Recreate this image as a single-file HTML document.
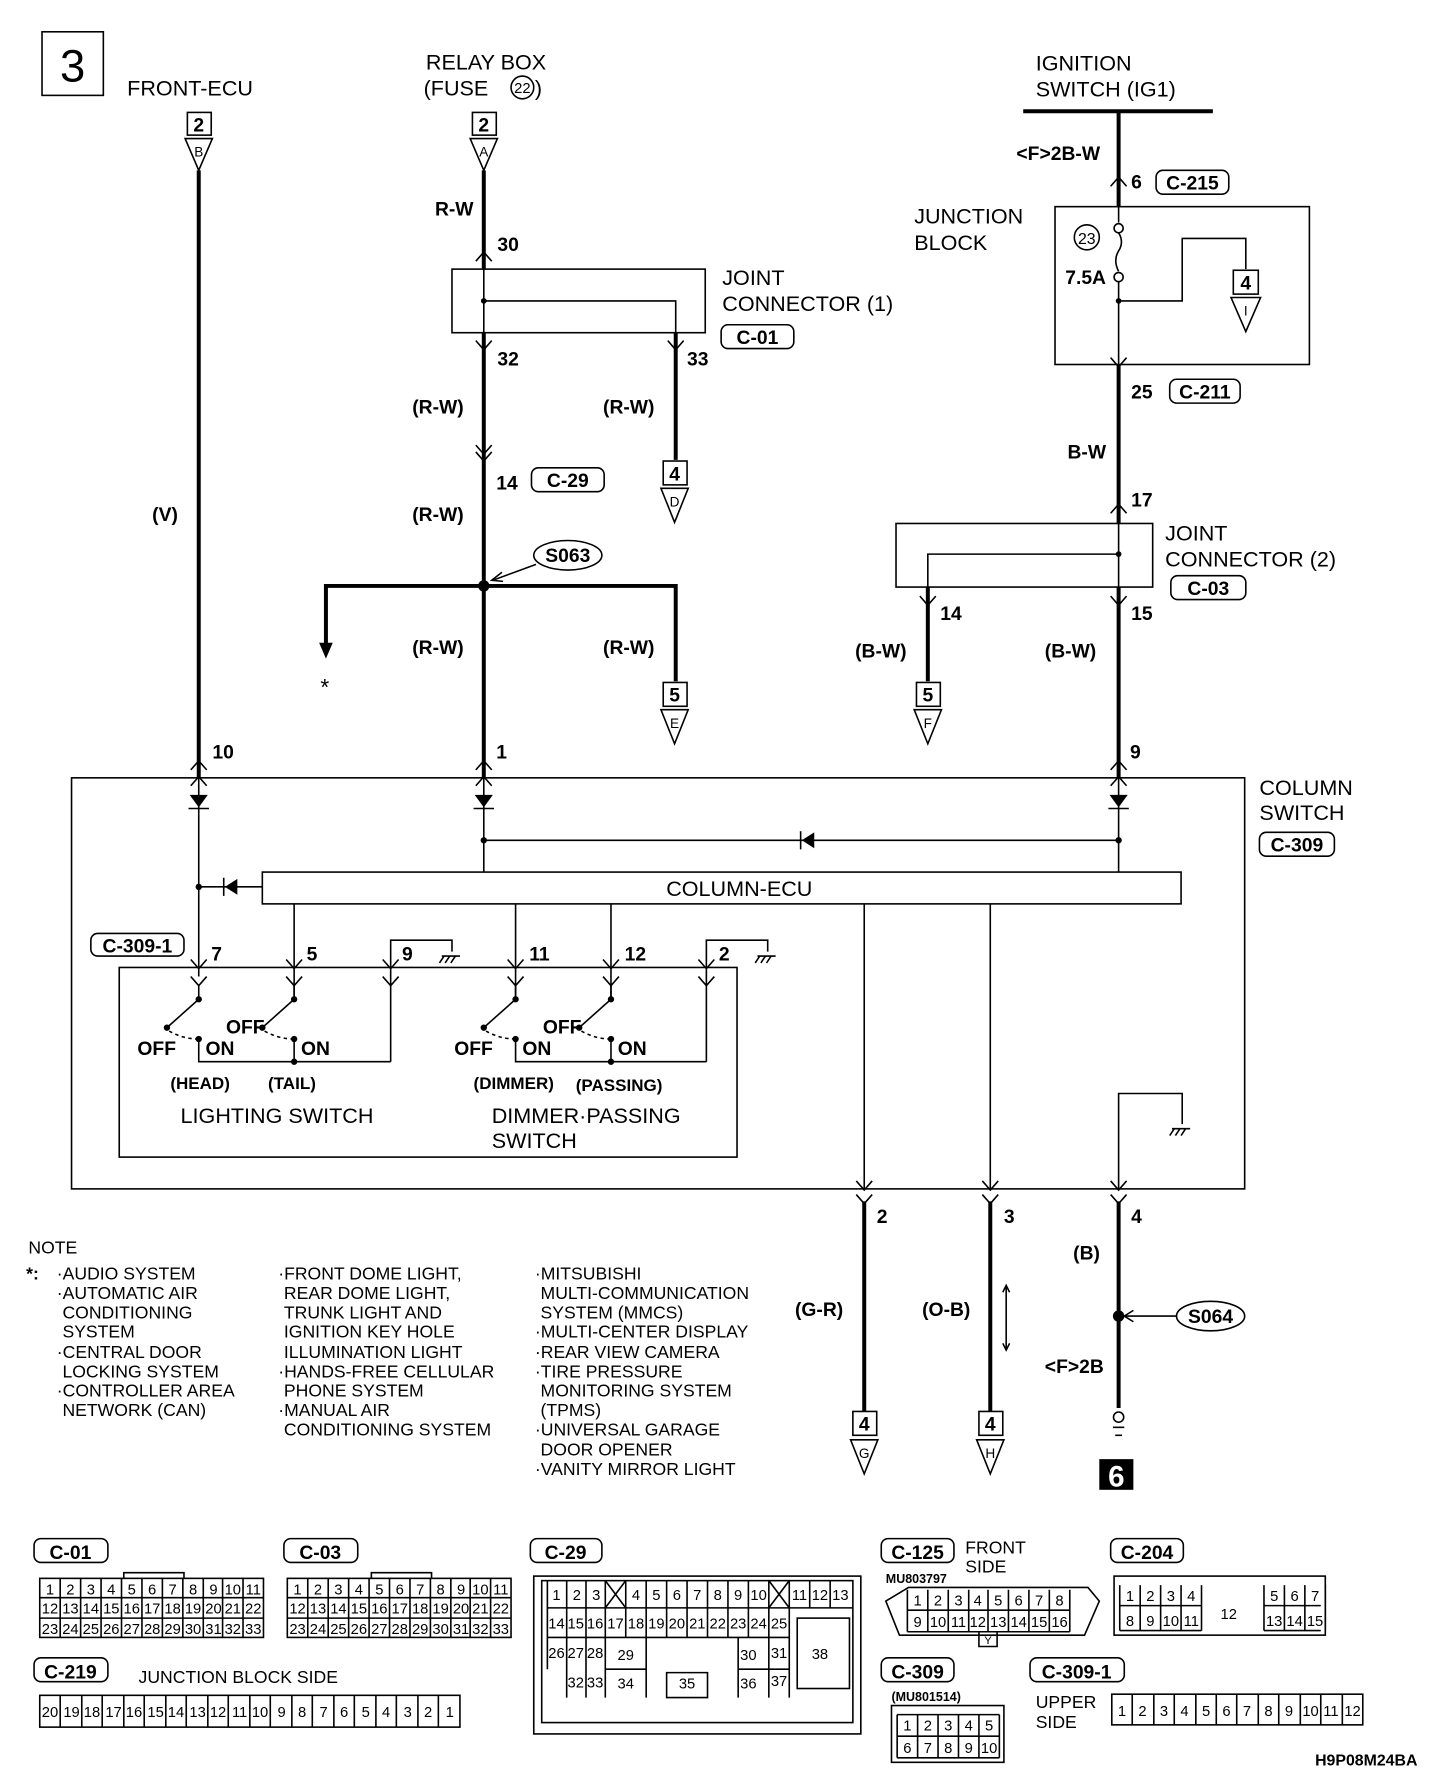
<!DOCTYPE html>
<html><head><meta charset="utf-8"><style>
html,body{margin:0;padding:0;background:#fff;}
svg{display:block;}
text{font-family:"Liberation Sans",sans-serif;fill:#000;}
.l{font-size:19px;}
.b{font-size:17px;font-weight:bold;font-family:"Liberation Sans Narrow","Liberation Sans",sans-serif;}
.n{font-size:15.5px;}
.c{font-size:13px;text-anchor:middle;}
.w{stroke:#000;stroke-width:3.5;fill:none;}
.t{stroke:#000;stroke-width:1.4;fill:none;}
</style></head><body>
<svg width="1440" height="1768" viewBox="0 0 1268 1557" preserveAspectRatio="none" xmlns="http://www.w3.org/2000/svg">
<rect x="0" y="0" width="1268" height="1557" fill="#fff"/>
<!-- box 3 -->
<rect x="37" y="28" width="54" height="56" class="t" stroke-width="2"/>
<text x="64" y="72" style="font-size:40px" text-anchor="middle">3</text>
<text x="112" y="84" class="l">FRONT-ECU</text>
<text x="428" y="61" class="l" text-anchor="middle">RELAY BOX</text>
<text x="373" y="84" class="l">(FUSE</text><circle cx="460" cy="77" r="10" class="t"/><text x="460" y="82" style="font-size:13px" text-anchor="middle">22</text><text x="471" y="84" class="l">)</text>
<text x="912" y="62" class="l">IGNITION</text>
<text x="912" y="85" class="l">SWITCH (IG1)</text>
<line x1="901" y1="98" x2="1068" y2="98" class="w" stroke-width="3"/>

<!-- connector blocks top -->
<g class="t">
<rect x="165" y="99" width="21" height="20"/><polygon points="163,122 187,122 175,150"/>
<rect x="416" y="99" width="21" height="20"/><polygon points="414,122 438,122 426,150"/>
</g>
<text x="175" y="116" class="b" text-anchor="middle">2</text><text x="175" y="138" style="font-size:12px" text-anchor="middle">B</text>
<text x="426" y="116" class="b" text-anchor="middle">2</text><text x="426" y="138" style="font-size:12px" text-anchor="middle">A</text>

<!-- front ecu wire -->
<line x1="175" y1="150" x2="175" y2="685" class="w"/>
<text x="134" y="459" class="b">(V)</text>
<text x="187" y="668" class="b">10</text>

<!-- relay wire -->
<line x1="426" y1="150" x2="426" y2="237" class="w"/>
<line x1="426" y1="237" x2="426" y2="293" class="t"/>
<line x1="426" y1="293" x2="426" y2="685" class="w"/>
<text x="383" y="190" class="b">R-W</text>
<text x="438" y="221" class="b">30</text>
<rect x="398" y="237" width="223" height="56" class="t"/>
<circle cx="426" cy="265" r="2.5"/>
<polyline points="426,265 595,265 595,293" class="t"/>
<line x1="595" y1="293" x2="595" y2="405" class="w" stroke-width="3"/>
<text x="636" y="251" class="l">JOINT</text>
<text x="636" y="274" class="l">CONNECTOR (1)</text>
<rect x="635" y="286" width="64" height="21" rx="6" class="t"/><text x="667" y="303" class="b" text-anchor="middle">C-01</text>
<text x="438" y="322" class="b">32</text><text x="605" y="322" class="b">33</text>
<text x="363" y="364" class="b">(R-W)</text><text x="531" y="364" class="b">(R-W)</text>
<g class="t"><rect x="584" y="406" width="21" height="21"/><polygon points="582,430 606,430 594,460"/></g>
<text x="594" y="423" class="b" text-anchor="middle">4</text><text x="594" y="446" style="font-size:12px" text-anchor="middle">D</text>
<polyline points="419,392 426,400 433,392" class="t"/><polyline points="419,398 426,406 433,398" class="t"/>
<text x="437" y="431" class="b">14</text>
<rect x="468" y="412" width="64" height="21" rx="6" class="t"/><text x="500" y="429" class="b" text-anchor="middle">C-29</text>
<text x="363" y="459" class="b">(R-W)</text>
<ellipse cx="500" cy="489" rx="30" ry="13" class="t" stroke-width="2"/><text x="500" y="495" class="b" text-anchor="middle">S063</text>
<line x1="472" y1="497" x2="434" y2="511" class="t"/><polyline points="442,504 433,511 443,512" class="t"/>
<circle cx="426" cy="516" r="5"/>
<polyline points="287,575 287,516 595,516 595,600" class="w"/>
<polygon points="281,566 293,566 287,580"/>
<text x="286" y="612" style="font-size:20px" text-anchor="middle">*</text>
<text x="363" y="576" class="b">(R-W)</text><text x="531" y="576" class="b">(R-W)</text>
<g class="t"><rect x="584" y="601" width="21" height="21"/><polygon points="582,625 606,625 594,655"/></g>
<text x="594" y="618" class="b" text-anchor="middle">5</text><text x="594" y="641" style="font-size:12px" text-anchor="middle">E</text>
<text x="437" y="668" class="b">1</text>

<!-- ignition side -->
<line x1="985" y1="98" x2="985" y2="182" class="w"/>
<text x="895" y="141" class="b">&lt;F&gt;2B-W</text>
<text x="996" y="166" class="b">6</text>
<rect x="1018" y="150" width="64" height="21" rx="6" class="t"/><text x="1050" y="167" class="b" text-anchor="middle">C-215</text>
<rect x="929" y="182" width="224" height="139" class="t"/>
<text x="805" y="197" class="l">JUNCTION</text><text x="805" y="220" class="l">BLOCK</text>
<line x1="985" y1="182" x2="985" y2="196" class="t"/>
<circle cx="985" cy="201" r="4" class="t"/><circle cx="985" cy="244" r="4" class="t"/>
<path d="M985,205 q5,8 0,16 q-5,8 0,18" class="t"/>
<circle cx="957" cy="209" r="11" class="t"/><text x="957" y="215" style="font-size:14px" text-anchor="middle">23</text>
<text x="938" y="250" class="b">7.5A</text>
<line x1="985" y1="248" x2="985" y2="321" class="t"/>
<circle cx="985" cy="265" r="2.5"/>
<polyline points="985,265 1041,265 1041,210 1097,210 1097,237" class="t"/>
<g class="t"><rect x="1086" y="238" width="22" height="21"/><polygon points="1084,262 1110,262 1097,292"/></g>
<text x="1097" y="255" class="b" text-anchor="middle">4</text><text x="1097" y="278" style="font-size:12px" text-anchor="middle">I</text>
<line x1="985" y1="321" x2="985" y2="461" class="w"/>
<text x="996" y="351" class="b">25</text>
<rect x="1030" y="334" width="62" height="21" rx="6" class="t"/><text x="1061" y="351" class="b" text-anchor="middle">C-211</text>
<text x="940" y="404" class="b">B-W</text>
<text x="996" y="446" class="b">17</text>
<rect x="789" y="461" width="226" height="56" class="t"/>
<line x1="985" y1="461" x2="985" y2="517" class="t"/>
<circle cx="985" cy="488" r="2.5"/>
<polyline points="985,488 817,488 817,517" class="t"/>
<line x1="817" y1="517" x2="817" y2="600" class="w" stroke-width="3"/>
<line x1="985" y1="517" x2="985" y2="685" class="w"/>
<text x="1026" y="476" class="l">JOINT</text><text x="1026" y="499" class="l">CONNECTOR (2)</text>
<rect x="1031" y="507" width="66" height="21" rx="6" class="t"/><text x="1064" y="524" class="b" text-anchor="middle">C-03</text>
<text x="828" y="546" class="b">14</text><text x="996" y="546" class="b">15</text>
<text x="753" y="579" class="b">(B-W)</text><text x="920" y="579" class="b">(B-W)</text>
<g class="t"><rect x="807" y="601" width="21" height="21"/><polygon points="805,625 829,625 817,655"/></g>
<text x="817" y="618" class="b" text-anchor="middle">5</text><text x="817" y="641" style="font-size:12px" text-anchor="middle">F</text>
<text x="995" y="668" class="b">9</text>

<!-- chevrons -->
<g class="t">
<polyline points="419,230 426,222 433,230"/><polyline points="419,300 426,308 433,300"/><polyline points="588,300 595,308 602,300"/>
<polyline points="978,164 985,156 992,164"/><polyline points="978,315 985,323 992,315"/><polyline points="978,452 985,444 992,452"/>
<polyline points="978,525 985,533 992,525"/><polyline points="810,525 817,533 824,525"/>
<polyline points="168,678 175,670 182,678"/><polyline points="419,678 426,670 433,678"/><polyline points="978,678 985,670 992,678"/>
<polyline points="168,692 175,684 182,692"/><polyline points="419,692 426,684 433,692"/><polyline points="978,692 985,684 992,692"/>
</g>

<!-- column switch -->
<rect x="63" y="685" width="1033" height="362" class="t"/>
<text x="1109" y="700" class="l">COLUMN</text><text x="1109" y="722" class="l">SWITCH</text>
<rect x="1109" y="733" width="66" height="21" rx="6" class="t"/><text x="1142" y="750" class="b" text-anchor="middle">C-309</text>
<line x1="175" y1="685" x2="175" y2="860" class="t"/>
<line x1="426" y1="685" x2="426" y2="768" class="t"/>
<line x1="985" y1="685" x2="985" y2="768" class="t"/>
<g>
<polygon points="167,700 183,700 175,711"/><line x1="166" y1="712" x2="184" y2="712" class="t" stroke-width="2"/>
<polygon points="418,700 434,700 426,711"/><line x1="417" y1="712" x2="435" y2="712" class="t" stroke-width="2"/>
<polygon points="977,700 993,700 985,711"/><line x1="976" y1="712" x2="994" y2="712" class="t" stroke-width="2"/>
</g>
<line x1="426" y1="740" x2="985" y2="740" class="t"/>
<circle cx="426" cy="740" r="2.8"/><circle cx="985" cy="740" r="2.8"/>
<polygon points="717,733 717,747 706,740"/><line x1="705" y1="732" x2="705" y2="748" class="t" stroke-width="2"/>
<rect x="231" y="768" width="809" height="28" class="t" stroke-width="1.6"/>
<text x="651" y="789" class="l" text-anchor="middle">COLUMN-ECU</text>
<line x1="175" y1="781" x2="231" y2="781" class="t"/>
<circle cx="175" cy="781" r="2.8"/>
<polygon points="209,774 209,788 198,781"/><line x1="197" y1="773" x2="197" y2="789" class="t" stroke-width="2"/>
<g class="t">
<line x1="259" y1="796" x2="259" y2="880"/>
<line x1="454" y1="796" x2="454" y2="880"/>
<line x1="538" y1="796" x2="538" y2="880"/>
<line x1="761" y1="796" x2="761" y2="1047"/>
<line x1="872" y1="796" x2="872" y2="1047"/>
<polyline points="344,935 344,828 398,828 398,838"/>
<polyline points="622,935 622,828 676,828 676,838"/>
<polyline points="985,1047 985,963 1041,963 1041,990"/>
</g>
<g class="t"><line x1="389" y1="842" x2="405" y2="842"/><line x1="391" y1="842" x2="387" y2="848"/><line x1="396" y1="842" x2="392" y2="848"/><line x1="401" y1="842" x2="397" y2="848"/>
<line x1="667" y1="842" x2="683" y2="842"/><line x1="669" y1="842" x2="665" y2="848"/><line x1="674" y1="842" x2="670" y2="848"/><line x1="679" y1="842" x2="675" y2="848"/>
<line x1="1032" y1="994" x2="1048" y2="994"/><line x1="1034" y1="994" x2="1030" y2="1000"/><line x1="1039" y1="994" x2="1035" y2="1000"/><line x1="1044" y1="994" x2="1040" y2="1000"/></g>
<rect x="80" y="822" width="82" height="20" rx="6" class="t"/><text x="121" y="839" class="b" text-anchor="middle">C-309-1</text>
<text x="186" y="846" class="b">7</text><text x="270" y="846" class="b">5</text><text x="354" y="846" class="b">9</text>
<text x="466" y="846" class="b">11</text><text x="550" y="846" class="b">12</text><text x="633" y="846" class="b">2</text>
<rect x="105" y="852" width="544" height="167" class="t"/>
<g class="t">
<polyline points="168,845 175,853 182,845"/><polyline points="252,845 259,853 266,845"/><polyline points="337,845 344,853 351,845"/>
<polyline points="447,845 454,853 461,845"/><polyline points="531,845 538,853 545,845"/><polyline points="615,845 622,853 629,845"/>
<polyline points="168,860 175,868 182,860"/><polyline points="252,860 259,868 266,860"/><polyline points="337,860 344,868 351,860"/>
<polyline points="447,860 454,868 461,860"/><polyline points="531,860 538,868 545,860"/><polyline points="615,860 622,868 629,860"/>
<line x1="175" y1="868" x2="175" y2="880"/><line x1="259" y1="868" x2="259" y2="880"/><line x1="454" y1="868" x2="454" y2="880"/><line x1="538" y1="868" x2="538" y2="880"/>
<polyline points="175,915 175,935 344,935"/><line x1="259" y1="915" x2="259" y2="935"/>
<polyline points="454,915 454,935 622,935"/><line x1="538" y1="915" x2="538" y2="935"/>
</g>
<g class="t" stroke-width="1.8">
<line x1="175" y1="880" x2="147" y2="905"/><line x1="259" y1="880" x2="231" y2="905"/>
<line x1="454" y1="880" x2="426" y2="905"/><line x1="538" y1="880" x2="510" y2="905"/>
</g>
<g class="t" stroke-dasharray="3,3"><path d="M149,908 q12,7 26,7"/><path d="M233,908 q12,7 26,7"/><path d="M428,908 q12,7 26,7"/><path d="M512,908 q12,7 26,7"/></g>
<g>
<circle cx="175" cy="880" r="2.8"/><circle cx="147" cy="905" r="2.8"/><circle cx="175" cy="915" r="2.8"/>
<circle cx="259" cy="880" r="2.8"/><circle cx="231" cy="905" r="2.8"/><circle cx="259" cy="915" r="2.8"/><circle cx="259" cy="935" r="2.8"/>
<circle cx="454" cy="880" r="2.8"/><circle cx="426" cy="905" r="2.8"/><circle cx="454" cy="915" r="2.8"/>
<circle cx="538" cy="880" r="2.8"/><circle cx="510" cy="905" r="2.8"/><circle cx="538" cy="915" r="2.8"/><circle cx="538" cy="935" r="2.8"/>
</g>
<text x="121" y="929" class="b">OFF</text><text x="181" y="929" class="b">ON</text>
<text x="199" y="910" class="b">OFF</text><text x="265" y="929" class="b">ON</text>
<text x="400" y="929" class="b">OFF</text><text x="460" y="929" class="b">ON</text>
<text x="478" y="910" class="b">OFF</text><text x="544" y="929" class="b">ON</text>
<text x="150" y="959" class="b" style="font-size:15px">(HEAD)</text><text x="236" y="959" class="b" style="font-size:15px">(TAIL)</text>
<text x="417" y="959" class="b" style="font-size:15px">(DIMMER)</text><text x="507" y="961" class="b" style="font-size:15px">(PASSING)</text>
<text x="159" y="989" class="l">LIGHTING SWITCH</text>
<text x="433" y="989" class="l">DIMMER·PASSING</text><text x="433" y="1011" class="l">SWITCH</text>

<!-- bottom wires -->
<g class="t">
<polyline points="754,1040 761,1048 768,1040"/><polyline points="865,1040 872,1048 879,1040"/><polyline points="978,1040 985,1048 992,1040"/>
<polyline points="754,1052 761,1060 768,1052"/><polyline points="865,1052 872,1060 879,1052"/><polyline points="978,1052 985,1060 992,1052"/>
</g>
<line x1="761" y1="1058" x2="761" y2="1243" class="w"/>
<line x1="872" y1="1058" x2="872" y2="1243" class="w"/>
<line x1="985" y1="1058" x2="985" y2="1240" class="w"/>
<text x="772" y="1077" class="b">2</text><text x="884" y="1077" class="b">3</text><text x="996" y="1077" class="b">4</text>
<text x="700" y="1159" class="b">(G-R)</text><text x="812" y="1159" class="b">(O-B)</text>
<line x1="886" y1="1133" x2="886" y2="1188" class="t" stroke-width="1"/><polyline points="883,1138 886,1132 889,1138" class="t" stroke-width="1"/><polyline points="883,1183 886,1189 889,1183" class="t" stroke-width="1"/>
<text x="945" y="1109" class="b">(B)</text>
<circle cx="985" cy="1159" r="5"/>
<line x1="990" y1="1159" x2="1036" y2="1159" class="t"/><polyline points="998,1154 990,1159 998,1164" class="t"/>
<ellipse cx="1066" cy="1159" rx="30" ry="13" class="t" stroke-width="2"/><text x="1066" y="1165" class="b" text-anchor="middle">S064</text>
<text x="920" y="1209" class="b">&lt;F&gt;2B</text>
<circle cx="985" cy="1248" r="4.5" class="t"/><line x1="980" y1="1257" x2="990" y2="1257" class="t"/><line x1="982" y1="1264" x2="988" y2="1264" class="t"/>
<rect x="968" y="1285" width="30" height="27" fill="#000"/><text x="983" y="1309" style="font-size:26px;font-weight:bold;fill:#fff" text-anchor="middle">6</text>
<g class="t"><rect x="751" y="1243" width="21" height="21"/><polygon points="749,1268 773,1268 761,1298"/>
<rect x="862" y="1243" width="21" height="21"/><polygon points="860,1268 884,1268 872,1298"/></g>
<text x="761" y="1260" class="b" text-anchor="middle">4</text><text x="761" y="1284" style="font-size:12px" text-anchor="middle">G</text>
<text x="872" y="1260" class="b" text-anchor="middle">4</text><text x="872" y="1284" style="font-size:12px" text-anchor="middle">H</text>

<!-- note -->
<g class="n">
<text x="25" y="1104">NOTE</text>
<text x="23" y="1127" style="font-weight:bold">*:</text>
<text x="50" y="1127">·AUDIO SYSTEM</text>
<text x="50" y="1144">·AUTOMATIC AIR</text>
<text x="55" y="1161">CONDITIONING</text>
<text x="55" y="1178">SYSTEM</text>
<text x="50" y="1196">·CENTRAL DOOR</text>
<text x="55" y="1213">LOCKING SYSTEM</text>
<text x="50" y="1230">·CONTROLLER AREA</text>
<text x="55" y="1247">NETWORK (CAN)</text>
<text x="245" y="1127">·FRONT DOME LIGHT,</text>
<text x="250" y="1144">REAR DOME LIGHT,</text>
<text x="250" y="1161">TRUNK LIGHT AND</text>
<text x="250" y="1178">IGNITION KEY HOLE</text>
<text x="250" y="1196">ILLUMINATION LIGHT</text>
<text x="245" y="1213">·HANDS-FREE CELLULAR</text>
<text x="250" y="1230">PHONE SYSTEM</text>
<text x="245" y="1247">·MANUAL AIR</text>
<text x="250" y="1264">CONDITIONING SYSTEM</text>
<text x="471" y="1127">·MITSUBISHI</text>
<text x="476" y="1144">MULTI-COMMUNICATION</text>
<text x="476" y="1161">SYSTEM (MMCS)</text>
<text x="471" y="1178">·MULTI-CENTER DISPLAY</text>
<text x="471" y="1196">·REAR VIEW CAMERA</text>
<text x="471" y="1213">·TIRE PRESSURE</text>
<text x="476" y="1230">MONITORING SYSTEM</text>
<text x="476" y="1247">(TPMS)</text>
<text x="471" y="1264">·UNIVERSAL GARAGE</text>
<text x="476" y="1282">DOOR OPENER</text>
<text x="471" y="1299">·VANITY MIRROR LIGHT</text>
</g>

<!-- connector labels -->
<g class="t">
<rect x="30" y="1355" width="65" height="21" rx="6"/><rect x="250" y="1355" width="65" height="21" rx="6"/>
<rect x="467" y="1355" width="63" height="21" rx="6"/><rect x="776" y="1355" width="64" height="21" rx="6"/>
<rect x="978" y="1355" width="64" height="21" rx="6"/><rect x="30" y="1460" width="65" height="21" rx="6"/>
<rect x="776" y="1460" width="64" height="21" rx="6"/><rect x="907" y="1460" width="83" height="21" rx="6"/>
</g>
<g class="b" text-anchor="middle">
<text x="62" y="1373" text-anchor="middle">C-01</text><text x="282" y="1373" text-anchor="middle">C-03</text>
<text x="498" y="1373" text-anchor="middle">C-29</text><text x="808" y="1373" text-anchor="middle">C-125</text>
<text x="1010" y="1373" text-anchor="middle">C-204</text><text x="62" y="1478" text-anchor="middle">C-219</text>
<text x="808" y="1478" text-anchor="middle">C-309</text><text x="948" y="1478" text-anchor="middle">C-309-1</text>
</g>
<text x="850" y="1368" class="n">FRONT</text><text x="850" y="1385" class="n">SIDE</text>
<text x="122" y="1482" class="n">JUNCTION BLOCK SIDE</text>
<text x="912" y="1504" class="n">UPPER</text><text x="912" y="1522" class="n">SIDE</text>
<text x="780" y="1394" style="font-size:11px;font-weight:bold">MU803797</text>
<text x="785" y="1498" style="font-size:11px;font-weight:bold">(MU801514)</text>
<text x="1158" y="1555" style="font-size:14px;font-weight:bold">H9P08M24BA</text>

<!-- C-01 grid -->
<g class="t" stroke-width="1.2">
<rect x="35" y="1390" width="197" height="52"/><line x1="35" y1="1407" x2="232" y2="1407"/><line x1="35" y1="1425" x2="232" y2="1425"/>
<path d="M53,1390V1442M71,1390V1442M89,1390V1442M107,1390V1442M125,1390V1442M143,1390V1442M161,1390V1442M179,1390V1442M196,1390V1442M214,1390V1442"/>
<polyline points="109,1390 109,1385 162,1385 162,1390"/>
<rect x="253" y="1390" width="197" height="52"/><line x1="253" y1="1407" x2="450" y2="1407"/><line x1="253" y1="1425" x2="450" y2="1425"/>
<path d="M271,1390V1442M289,1390V1442M307,1390V1442M325,1390V1442M343,1390V1442M361,1390V1442M379,1390V1442M397,1390V1442M414,1390V1442M432,1390V1442"/>
<polyline points="327,1390 327,1385 380,1385 380,1390"/>
<rect x="35" y="1493" width="370" height="28"/>
<path d="M53,1493V1521M72,1493V1521M90,1493V1521M109,1493V1521M127,1493V1521M146,1493V1521M164,1493V1521M183,1493V1521M201,1493V1521M220,1493V1521M238,1493V1521M257,1493V1521M275,1493V1521M294,1493V1521M312,1493V1521M331,1493V1521M349,1493V1521M368,1493V1521M386,1493V1521"/>
<rect x="470" y="1388" width="288" height="139"/><rect x="477" y="1392" width="274" height="125"/>
<path d="M482,1392V1442M499,1392V1442M516,1392V1442M533,1392V1442M551,1392V1442M569,1392V1442M587,1392V1442M605,1392V1442M623,1392V1442M641,1392V1442M659,1392V1442M677,1392V1442M695,1392V1442M713,1392V1416M731,1392V1416M482,1416H751M482,1442H695"/>
<path d="M533,1392L551,1416M551,1392L533,1416M677,1392L695,1416M695,1392L677,1416"/>
<path d="M482,1442V1470M499,1442V1495M516,1442V1495M533,1442V1495M569,1442V1495M650,1442V1495M677,1442V1495M695,1442V1495M533,1470H569M650,1470H695M587,1473H623V1495H587Z"/>
<rect x="702" y="1425" width="46" height="62"/>
<rect x="981" y="1388" width="186" height="52"/>
<path d="M986,1396V1436M1004,1396V1436M1022,1396V1436M1040,1396V1436M1058,1396V1436M1113,1396V1436M1131,1396V1436M1149,1396V1436M1167,1396V1436M986,1414H1058M1113,1414H1163M986,1436H1058M1113,1436H1163"/>
<path d="M800,1398H958L968,1410L955,1440H792L780,1410Z"/>
<path d="M799,1400V1437M817,1400V1437M835,1400V1437M853,1400V1437M870,1400V1437M888,1400V1437M906,1400V1437M924,1400V1437M942,1400V1437M799,1418H942M799,1437H942M862,1437V1450H878V1437"/>
<rect x="785" y="1502" width="99" height="50"/>
<path d="M790,1510V1548M808,1510V1548M826,1510V1548M844,1510V1548M862,1510V1548M880,1510V1548M790,1529H880M790,1548H880M790,1510H880"/>
<rect x="979" y="1492" width="221" height="27"/>
<path d="M997,1492V1519M1016,1492V1519M1034,1492V1519M1053,1492V1519M1071,1492V1519M1089,1492V1519M1108,1492V1519M1126,1492V1519M1145,1492V1519M1163,1492V1519M1182,1492V1519"/>
</g>
<g class="c">
<text x="44" y="1404">1</text><text x="62" y="1404">2</text><text x="80" y="1404">3</text><text x="98" y="1404">4</text><text x="116" y="1404">5</text><text x="134" y="1404">6</text><text x="152" y="1404">7</text><text x="170" y="1404">8</text><text x="188" y="1404">9</text><text x="205" y="1404">10</text><text x="223" y="1404">11</text>
<text x="44" y="1421">12</text><text x="62" y="1421">13</text><text x="80" y="1421">14</text><text x="98" y="1421">15</text><text x="116" y="1421">16</text><text x="134" y="1421">17</text><text x="152" y="1421">18</text><text x="170" y="1421">19</text><text x="188" y="1421">20</text><text x="205" y="1421">21</text><text x="223" y="1421">22</text>
<text x="44" y="1439">23</text><text x="62" y="1439">24</text><text x="80" y="1439">25</text><text x="98" y="1439">26</text><text x="116" y="1439">27</text><text x="134" y="1439">28</text><text x="152" y="1439">29</text><text x="170" y="1439">30</text><text x="188" y="1439">31</text><text x="205" y="1439">32</text><text x="223" y="1439">33</text>
<text x="262" y="1404">1</text><text x="280" y="1404">2</text><text x="298" y="1404">3</text><text x="316" y="1404">4</text><text x="334" y="1404">5</text><text x="352" y="1404">6</text><text x="370" y="1404">7</text><text x="388" y="1404">8</text><text x="406" y="1404">9</text><text x="423" y="1404">10</text><text x="441" y="1404">11</text>
<text x="262" y="1421">12</text><text x="280" y="1421">13</text><text x="298" y="1421">14</text><text x="316" y="1421">15</text><text x="334" y="1421">16</text><text x="352" y="1421">17</text><text x="370" y="1421">18</text><text x="388" y="1421">19</text><text x="406" y="1421">20</text><text x="423" y="1421">21</text><text x="441" y="1421">22</text>
<text x="262" y="1439">23</text><text x="280" y="1439">24</text><text x="298" y="1439">25</text><text x="316" y="1439">26</text><text x="334" y="1439">27</text><text x="352" y="1439">28</text><text x="370" y="1439">29</text><text x="388" y="1439">30</text><text x="406" y="1439">31</text><text x="423" y="1439">32</text><text x="441" y="1439">33</text>
<text x="44" y="1512">20</text><text x="63" y="1512">19</text><text x="81" y="1512">18</text><text x="100" y="1512">17</text><text x="118" y="1512">16</text><text x="137" y="1512">15</text><text x="155" y="1512">14</text><text x="174" y="1512">13</text><text x="192" y="1512">12</text><text x="211" y="1512">11</text><text x="229" y="1512">10</text><text x="248" y="1512">9</text><text x="266" y="1512">8</text><text x="285" y="1512">7</text><text x="303" y="1512">6</text><text x="322" y="1512">5</text><text x="340" y="1512">4</text><text x="359" y="1512">3</text><text x="377" y="1512">2</text><text x="396" y="1512">1</text>
<text x="490" y="1409">1</text><text x="508" y="1409">2</text><text x="525" y="1409">3</text><text x="560" y="1409">4</text><text x="578" y="1409">5</text><text x="596" y="1409">6</text><text x="614" y="1409">7</text><text x="632" y="1409">8</text><text x="650" y="1409">9</text><text x="668" y="1409">10</text><text x="704" y="1409">11</text><text x="722" y="1409">12</text><text x="740" y="1409">13</text>
<text x="490" y="1434">14</text><text x="507" y="1434">15</text><text x="524" y="1434">16</text><text x="542" y="1434">17</text><text x="560" y="1434">18</text><text x="578" y="1434">19</text><text x="596" y="1434">20</text><text x="614" y="1434">21</text><text x="632" y="1434">22</text><text x="650" y="1434">23</text><text x="668" y="1434">24</text><text x="686" y="1434">25</text>
<text x="490" y="1460">26</text><text x="507" y="1460">27</text><text x="524" y="1460">28</text><text x="551" y="1462">29</text><text x="659" y="1462">30</text><text x="686" y="1460">31</text>
<text x="507" y="1486">32</text><text x="524" y="1486">33</text><text x="551" y="1487">34</text><text x="605" y="1487">35</text><text x="659" y="1487">36</text><text x="686" y="1485">37</text><text x="722" y="1461">38</text>
<text x="808" y="1414">1</text><text x="826" y="1414">2</text><text x="844" y="1414">3</text><text x="861" y="1414">4</text><text x="879" y="1414">5</text><text x="897" y="1414">6</text><text x="915" y="1414">7</text><text x="933" y="1414">8</text>
<text x="808" y="1433">9</text><text x="826" y="1433">10</text><text x="844" y="1433">11</text><text x="861" y="1433">12</text><text x="879" y="1433">13</text><text x="897" y="1433">14</text><text x="915" y="1433">15</text><text x="933" y="1433">16</text><text x="870" y="1448" style="font-size:10px">Y</text>
<text x="995" y="1410">1</text><text x="1013" y="1410">2</text><text x="1031" y="1410">3</text><text x="1049" y="1410">4</text><text x="1122" y="1410">5</text><text x="1140" y="1410">6</text><text x="1158" y="1410">7</text>
<text x="995" y="1432">8</text><text x="1013" y="1432">9</text><text x="1031" y="1432">10</text><text x="1049" y="1432">11</text><text x="1082" y="1426">12</text><text x="1122" y="1432">13</text><text x="1140" y="1432">14</text><text x="1158" y="1432">15</text>
<text x="799" y="1524">1</text><text x="817" y="1524">2</text><text x="835" y="1524">3</text><text x="853" y="1524">4</text><text x="871" y="1524">5</text>
<text x="799" y="1544">6</text><text x="817" y="1544">7</text><text x="835" y="1544">8</text><text x="853" y="1544">9</text><text x="871" y="1544">10</text>
<text x="988" y="1511">1</text><text x="1006" y="1511">2</text><text x="1025" y="1511">3</text><text x="1043" y="1511">4</text><text x="1062" y="1511">5</text><text x="1080" y="1511">6</text><text x="1098" y="1511">7</text><text x="1117" y="1511">8</text><text x="1135" y="1511">9</text><text x="1154" y="1511">10</text><text x="1172" y="1511">11</text><text x="1191" y="1511">12</text>
</g>
</svg>
</body></html>
